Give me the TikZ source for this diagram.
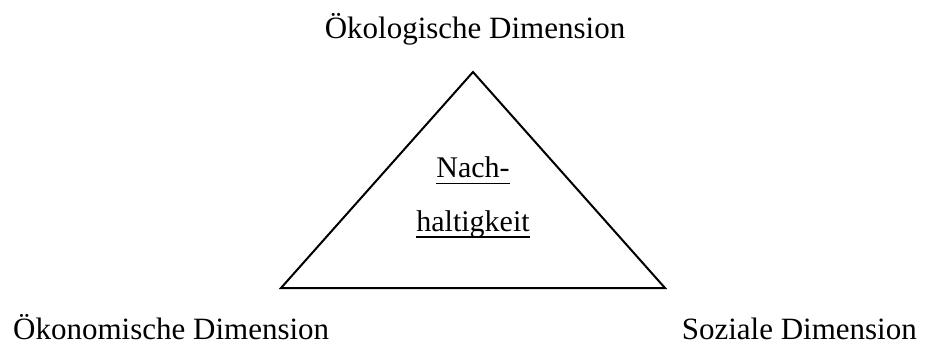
\documentclass[tikz,border=0pt]{standalone}
\usepackage{fontspec}
\setmainfont{Liberation Serif}
\begin{document}
\begin{tikzpicture}[x=1pt,y=-1pt,
  lbl/.style={inner sep=0pt,font=\fontsize{31}{37}\selectfont,anchor=base},
  uline/.style={line width=1.6pt}]
\useasboundingbox (0,0) rectangle (925,354);
\coordinate (apex) at (473,72);
\coordinate (bl) at (281,288);
\coordinate (br) at (665,288);
\draw[line width=2pt,line join=miter] (apex) -- (br) -- (bl) -- cycle;
\node[lbl] (oko) at (475,38) {Ökologische Dimension};
\node[lbl,anchor=base west] (okon) at (13,339) {Ökonomische Dimension};
\node[lbl,anchor=base east] (soz) at (917,339) {Soziale Dimension};
\node[lbl,font=\fontsize{30}{36}\selectfont] (nach) at (473,177) {Nach-};
\node[lbl,font=\fontsize{30}{36}\selectfont] (halt) at (473,231) {haltigkeit};
\draw[uline] ([yshift=-6.5pt]nach.base west) -- ([yshift=-6.5pt]nach.base east);
\draw[uline] ([yshift=-6pt]halt.base west) -- ([yshift=-6pt]halt.base east);
\end{tikzpicture}
\end{document}
